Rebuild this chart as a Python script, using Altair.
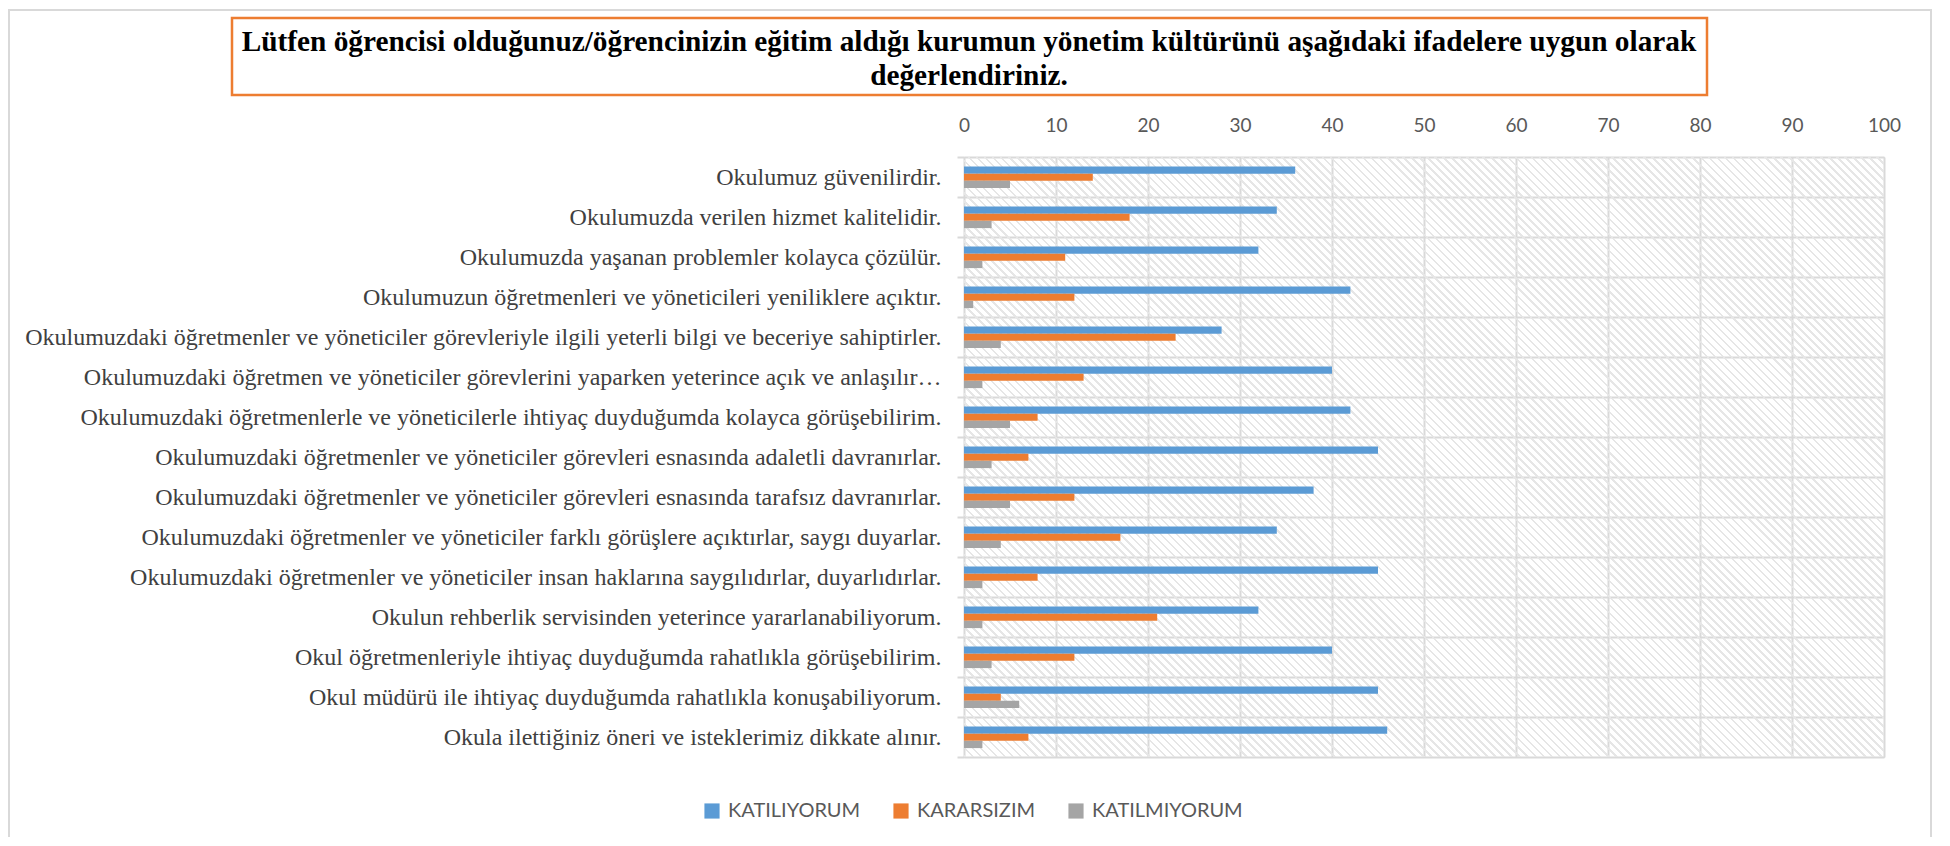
import altair as alt
import pandas as pd

title_lines = [
    "Lütfen öğrencisi olduğunuz/öğrencinizin eğitim aldığı kurumun yönetim kültürünü aşağıdaki ifadelere uygun olarak",
    "değerlendiriniz.",
]

statements = [
    "Okulumuz güvenilirdir.",
    "Okulumuzda verilen hizmet kalitelidir.",
    "Okulumuzda yaşanan problemler kolayca çözülür.",
    "Okulumuzun öğretmenleri ve yöneticileri yeniliklere açıktır.",
    "Okulumuzdaki öğretmenler ve yöneticiler görevleriyle ilgili yeterli bilgi ve beceriye sahiptirler.",
    "Okulumuzdaki öğretmen ve yöneticiler görevlerini yaparken yeterince açık ve anlaşılır…",
    "Okulumuzdaki öğretmenlerle ve yöneticilerle ihtiyaç duyduğumda kolayca görüşebilirim.",
    "Okulumuzdaki öğretmenler ve yöneticiler görevleri esnasında adaletli davranırlar.",
    "Okulumuzdaki öğretmenler ve yöneticiler görevleri esnasında tarafsız davranırlar.",
    "Okulumuzdaki öğretmenler ve yöneticiler farklı görüşlere açıktırlar, saygı duyarlar.",
    "Okulumuzdaki öğretmenler ve yöneticiler insan haklarına saygılıdırlar, duyarlıdırlar.",
    "Okulun rehberlik servisinden yeterince yararlanabiliyorum.",
    "Okul öğretmenleriyle ihtiyaç duyduğumda rahatlıkla görüşebilirim.",
    "Okul müdürü ile ihtiyaç duyduğumda rahatlıkla konuşabiliyorum.",
    "Okula ilettiğiniz öneri ve isteklerimiz dikkate alınır.",
]

series_names = ["KATILIYORUM", "KARARSIZIM", "KATILMIYORUM"]
series_colors = ["#5B9BD5", "#ED7D31", "#A5A5A5"]

katiliyorum = [36, 34, 32, 42, 28, 40, 42, 45, 38, 34, 45, 32, 40, 45, 46]
kararsizim = [14, 18, 11, 12, 23, 13, 8, 7, 12, 17, 8, 21, 12, 4, 7]
katilmiyorum = [5, 3, 2, 1, 4, 2, 5, 3, 5, 4, 2, 2, 3, 6, 2]

x_ticks = [0, 10, 20, 30, 40, 50, 60, 70, 80, 90, 100]

rows = []
for i, s in enumerate(statements):
    for name, vals in zip(series_names, [katiliyorum, kararsizim, katilmiyorum]):
        rows.append({"ifade": s, "seri": name, "deger": vals[i]})
df = pd.DataFrame(rows)

W, H = 920, 600
GRID = "#D9D9D9"

# diagonal hatch as a striped linear gradient (transparent gaps)
ax = 1.0
ay = -H / W
t = ((1.0) * ax + (-1.0) * ay) / (ax * ax + ay * ay)
ex, ey = 0 + t * ax, 1 + t * ay
perp_len = (W + H) / (2 ** 0.5)
n_stripes = int(perp_len / 5.66)
hatch_col = "#E6E6E6"
clear = "rgba(255,255,255,0)"
stops = []
for i in range(n_stripes):
    a = i / n_stripes
    b = (i + 0.33) / n_stripes
    c = (i + 1) / n_stripes
    stops += [
        alt.GradientStop(offset=a, color=hatch_col),
        alt.GradientStop(offset=b, color=hatch_col),
        alt.GradientStop(offset=b, color=clear),
        alt.GradientStop(offset=c, color=clear),
    ]
hatch_grad = alt.LinearGradient(gradient="linear", stops=stops, x1=0, y1=1, x2=ex, y2=ey)

base = alt.Chart(df)

y_enc = alt.Y(
    "ifade:N",
    sort=statements,
    title=None,
    scale=alt.Scale(paddingInner=0, paddingOuter=0),
    axis=alt.Axis(
        labelFont="Liberation Serif",
        labelFontSize=24,
        labelColor="#404040",
        labelLimit=1200,
        labelPadding=16,
        tickSize=7,
        tickColor=GRID,
        tickWidth=2,
        tickBand="extent",
        domain=False,
        grid=True,
        gridColor=GRID,
        gridWidth=2,
    ),
)

x_enc = alt.X(
    "deger:Q",
    title=None,
    scale=alt.Scale(domain=[0, 100], nice=False),
    axis=alt.Axis(
        orient="top",
        values=x_ticks,
        labelFont="Lato",
        labelFontSize=19,
        labelColor="#595959",
        labelPadding=22,
        labelFlush=False,
        ticks=False,
        domain=False,
        grid=True,
        gridColor=GRID,
        gridWidth=2,
    ),
)

hatch = alt.Chart(pd.DataFrame({"k": [0]})).mark_rect(color=hatch_grad).encode(
    x=alt.value(0), x2=alt.value("width"), y=alt.value(0), y2=alt.value("height")
)

bars = base.mark_bar().encode(
    y=y_enc,
    x=x_enc,
    yOffset=alt.YOffset(
        "seri:N",
        sort=series_names,
        scale=alt.Scale(paddingInner=0, paddingOuter=0, range=[9.4, 31.1]),
    ),
    color=alt.Color(
        "seri:N",
        sort=series_names,
        scale=alt.Scale(domain=series_names, range=series_colors),
        legend=alt.Legend(
            title=None,
            orient="none",
            direction="horizontal",
            legendX=-262,
            legendY=644,
            symbolType="square",
            symbolSize=230,
            symbolStrokeWidth=0,
            labelFont="Lato",
            labelFontSize=20,
            labelColor="#595959",
            labelOffset=6,
            columnPadding=30,
            padding=0,
        ),
    ),
)

title_box = alt.Chart(pd.DataFrame({"k": [0]})).mark_rect(
    fill="white", stroke="#ED7D31", strokeWidth=2.5
).encode(
    x=alt.value(-732), x2=alt.value(743), y=alt.value(-139), y2=alt.value(-62)
)

title_text = alt.Chart(pd.DataFrame({"k": [0]})).mark_text(
    font="Liberation Serif",
    fontSize=29.3,
    fontWeight="bold",
    color="black",
    align="center",
    baseline="alphabetic",
    lineHeight=34,
).encode(x=alt.value(5), y=alt.value(-106), text=alt.value(title_lines))

outer = alt.Chart(pd.DataFrame({"k": [0]})).mark_rect(
    fill=None, stroke="#D9D9D9", strokeWidth=2
).encode(
    x=alt.value(-955), x2=alt.value(967), y=alt.value(-147), y2=alt.value(720)
)

chart = (
    alt.layer(outer, hatch, bars, title_box, title_text)
    .properties(
        width=W,
        height=H,
        autosize=alt.AutoSizeParams(type="none"),
        padding={"left": 956, "top": 149, "right": 50, "bottom": 80},
    )
    .configure_view(stroke=None)
    .configure(background="white")
)

chart.save("out.html", embed_options={"renderer": "svg", "actions": False})
